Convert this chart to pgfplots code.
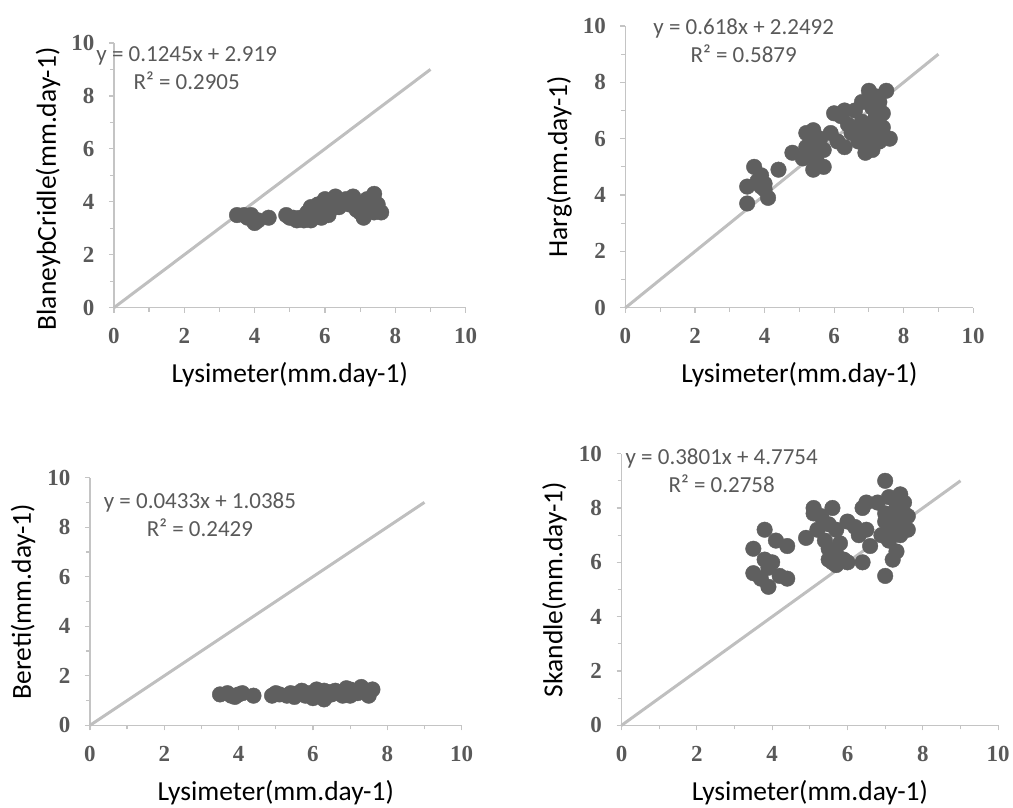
\documentclass[border=0pt]{standalone}
\usepackage{fontspec}
\setmainfont{Liberation Serif}
\newfontfamily\carlito{Carlito}
\usepackage{pgfplots}
\pgfplotsset{compat=1.18}
\definecolor{dotgray}{HTML}{5F5F5F}
\definecolor{linegray}{HTML}{BFBFBF}
\definecolor{axgray}{HTML}{C4C4C4}
\definecolor{txtgray}{HTML}{595959}

\pgfplotsset{panel/.style={
  scale only axis, xmin=0, xmax=10, ymin=0, ymax=10,
  axis x line*=bottom, axis y line*=left,
  axis line style={axgray, line width=1.5pt},
  xtick={0,2,...,10}, ytick={0,2,...,10}, minor tick num=1,
  xticklabels={\textbf{0},\textbf{2},\textbf{4},\textbf{6},\textbf{8},\textbf{10}},
  yticklabels={\textbf{0},\textbf{2},\textbf{4},\textbf{6},\textbf{8},\textbf{10}},
  tick align=outside, major tick length=5pt, minor tick length=4pt,
  every tick/.style={axgray, line width=1.2pt},
  tick label style={font=\fontsize{23}{25}\selectfont, text=txtgray},
  xticklabel shift=12pt, yticklabel shift=11pt,
  label style={font=\carlito\fontsize{27.5}{32}\selectfont},
  xlabel={Lysimeter(mm.day-1)},
  xlabel style={at={(axis description cs:0.5,0)}, anchor=center, yshift=-67pt},
  ylabel style={at={(axis description cs:0,0.5)}, anchor=center, yshift=66pt},
  clip=false, anchor=south west,
}}
\pgfplotsset{dots/.style={only marks, mark=*, mark size=7.8pt, mark options={fill=dotgray, draw=dotgray}}}
\pgfplotsset{oneone/.style={no marks, color=linegray, line width=3pt}}
\newcommand{\eqfont}{\carlito\fontsize{23}{28}\selectfont}

\begin{document}
\begin{tikzpicture}[x=1pt,y=1pt]
\path (0,0) rectangle (1013,807);

% Panel 1: Blaney-Criddle
\begin{axis}[panel, at={(114pt,499pt)}, width=352pt, height=265pt,
  ylabel={BlaneybCridle(mm.day-1)},
  ylabel style={at={(axis description cs:0,0.449)}}]
\addplot[oneone] coordinates {(0,0) (9,9)};
\addplot[dots] coordinates {
(3.5,3.5) (3.7,3.5) (3.8,3.4) (3.9,3.5) (4.0,3.2) (4.1,3.3) (4.4,3.4)
(4.9,3.5) (5.1,3.4) (5.2,3.3) (5.3,3.4) (5.4,3.3) (5.5,3.6) (5.5,3.4)
(5.6,3.8) (5.7,3.5) (5.8,3.7) (5.9,3.4) (6.0,4.1) (6.0,3.8) (6.1,3.5)
(6.2,3.9) (6.3,4.2) (6.4,3.8) (6.5,4.0) (6.6,4.1) (6.7,3.9) (6.8,4.2)
(6.9,3.7) (7.0,3.6) (7.1,3.4) (7.1,3.9) (7.2,4.1) (7.3,3.8) (7.4,4.3)
(7.4,3.6) (7.5,3.9) (7.6,3.6) (5.6,3.3) (6.9,4.0) (5.0,3.4) (5.8,3.9)
(6.3,3.8) (6.1,4.0) (7.0,3.9)
};
\node[text=txtgray, align=center, font=\eqfont] at (axis cs:2.07,9.05) {y = 0.1245x + 2.919\\R² = 0.2905};
\end{axis}

% Panel 2: Hargreaves
\begin{axis}[panel, at={(626pt,499pt)}, width=348pt, height=282pt,
  ylabel={Harg(mm.day-1)}]
\addplot[oneone] coordinates {(0,0) (9,9)};
\addplot[dots] coordinates {
(3.5,3.7) (3.5,4.3) (3.7,5.0) (3.8,4.5) (3.9,4.7) (4.0,4.2) (4.1,3.9)
(4.0,4.4) (4.4,4.9) (4.8,5.5) (5.1,5.3) (5.2,6.2) (5.3,5.8) (5.4,4.9)
(5.4,6.3) (5.5,5.5) (5.5,5.9) (5.7,5.0) (5.7,5.6) (5.9,6.2) (6.0,6.9)
(6.1,5.9) (6.3,5.7) (6.3,7.0) (6.4,6.5) (6.5,6.2) (6.6,6.3) (6.7,5.9)
(6.8,7.3) (6.9,5.5) (7.0,7.7) (7.0,6.0) (7.0,6.5) (7.1,5.6) (7.1,7.1)
(7.2,6.2) (7.2,6.8) (7.3,5.9) (7.3,7.3) (7.4,6.4) (7.4,6.9) (7.5,7.7)
(7.6,6.0) (6.2,6.8) (6.6,7.0) (7.0,7.4) (5.3,5.4) (5.6,6.0) (3.9,4.3)
(5.2,5.7) (5.5,5.2) (6.8,6.6) (7.2,7.5) (6.9,6.1)
};
\node[text=txtgray, align=center, font=\eqfont] at (axis cs:3.40,9.47) {y = 0.618x + 2.2492\\R² = 0.5879};
\end{axis}

% Panel 3: Bereti
\begin{axis}[panel, at={(90pt,81pt)}, width=372pt, height=248pt,
  ylabel={Bereti(mm.day-1)}, ylabel style={yshift=1pt}]
\addplot[oneone] coordinates {(0,0) (9,9)};
\addplot[dots] coordinates {
(3.5,1.25) (3.7,1.3) (3.8,1.2) (3.9,1.15) (4.0,1.25) (4.1,1.3) (4.4,1.2)
(4.9,1.2) (5.1,1.25) (5.3,1.2) (5.4,1.3) (5.5,1.15) (5.6,1.3) (5.7,1.4)
(5.8,1.2) (5.9,1.3) (6.0,1.1) (6.1,1.45) (6.2,1.3) (6.3,1.05) (6.4,1.35)
(6.5,1.25) (6.6,1.4) (6.7,1.3) (6.8,1.35) (6.9,1.5) (7.0,1.2) (7.1,1.4)
(7.2,1.3) (7.3,1.55) (7.4,1.4) (7.5,1.2) (7.6,1.45) (7.0,1.45) (5.0,1.3)
(6.3,1.4) (6.8,1.2)
};
\node[text=txtgray, align=center, font=\eqfont] at (axis cs:2.96,8.49) {y = 0.0433x + 1.0385\\R² = 0.2429};
\end{axis}

% Panel 4: Skandle
\begin{axis}[panel, at={(622pt,81pt)}, width=377pt, height=272pt,
  ylabel={Skandle(mm.day-1)}, ylabel style={yshift=1pt}]
\addplot[oneone] coordinates {(0,0) (9,9)};
\addplot[dots] coordinates {
(3.5,6.5) (3.5,5.6) (3.7,5.4) (3.8,7.2) (3.8,6.1) (3.9,5.1) (3.9,5.8)
(4.0,6.0) (4.1,6.8) (4.2,5.5) (4.4,6.6) (4.4,5.4) (4.9,6.9) (5.1,8.0)
(5.1,7.8) (5.2,7.2) (5.4,6.8) (5.5,6.1) (5.5,7.4) (5.6,8.0) (5.6,6.0)
(5.7,7.2) (5.7,6.3) (5.8,6.7) (5.9,6.1) (6.0,7.5) (6.0,6.0) (6.2,7.3)
(6.3,7.0) (6.4,8.0) (6.4,6.0) (6.5,8.2) (6.5,7.2) (6.6,6.6) (6.8,8.2)
(6.9,7.0) (7.0,5.5) (7.0,9.0) (7.0,7.5) (7.1,8.4) (7.1,6.8) (7.2,6.1)
(7.2,7.8) (7.3,8.0) (7.3,6.4) (7.4,8.5) (7.4,7.0) (7.5,7.8) (7.5,8.2)
(7.6,7.7) (7.6,7.2) (7.2,7.2) (7.0,7.8) (5.5,6.5) (5.7,5.9) (5.3,7.7)
(7.3,7.5) (7.1,7.0)
};
\node[text=txtgray, align=center, font=\eqfont] at (axis cs:2.66,9.38) {y = 0.3801x + 4.7754\\R² = 0.2758};
\end{axis}
\end{tikzpicture}
\end{document}
